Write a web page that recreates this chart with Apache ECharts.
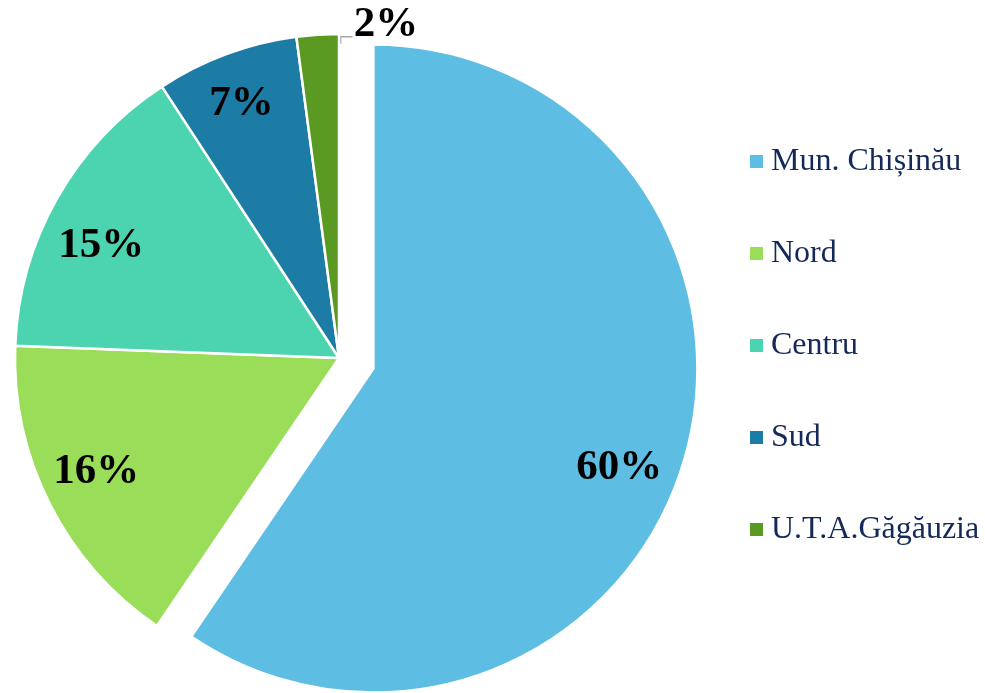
<!DOCTYPE html>
<html>
<head>
<meta charset="utf-8">
<script src="https://cdn.jsdelivr.net/npm/echarts@6/dist/echarts.min.js"></script>
<style>html,body{margin:0;padding:0;background:#fff;}#c{width:985px;height:693px;}</style>
</head>
<body>
<div id="c"></div>
<script>
const categories = ['Mun. Chișinău', 'Nord', 'Centru', 'Sud', 'U.T.A.Găgăuzia'];
const values = [59.5, 16.1, 15.2, 7.1, 2.1];
const colors = ['#5EBDE3', '#9ADD59', '#4CD4B0', '#1C7CA5', '#5A9A22'];
const labelTexts = ['60%', '16%', '15%', '7%', '2%'];
const labelNudges = [[-11, 20], [-3, -7], [-4, 20], [-4, -2], [0, 0]];

const chart = echarts.init(document.getElementById('c'));
const R = 324;
const center = [339, 358];
const offset = 36;

const mainData = categories.map((c, i) => ({
  name: c, value: values[i], selected: i === 0,
  itemStyle: { color: colors[i] }
}));
const labelData = categories.map((c, i) => ({
  name: c, value: values[i], selected: i === 0,
  label: i === 4 ? { position: 'outside' } : { position: 'inside' },
  labelLine: i === 4 ? { show: true, length: 4, length2: 10, lineStyle: { color: '#A6A6A6', width: 1.5 } } : { show: false }
}));

chart.setOption({
  animation: false,
  legend: {
    orient: 'vertical',
    left: 743,
    top: 140,
    itemWidth: 15,
    itemHeight: 15,
    itemGap: 59,
    icon: 'rect',
    data: categories,
    textStyle: { fontFamily: 'Liberation Serif', fontSize: 32, color: '#13295A', lineHeight: 33, padding: [0, 0, 0, 2] }
  },
  series: [
    {
      type: 'pie',
      name: 'main',
      center: center,
      radius: [0, R],
      startAngle: 90,
      clockwise: true,
      selectedMode: 'single',
      selectedOffset: offset,
      silent: true,
      itemStyle: { borderColor: '#ffffff', borderWidth: 2.5 },
      label: { show: false },
      labelLine: { show: false },
      emphasis: { disabled: true },
      data: mainData
    },
    {
      type: 'pie',
      name: 'labels',
      center: center,
      radius: [R * 0.64, R],
      startAngle: 90,
      clockwise: true,
      selectedMode: 'single',
      selectedOffset: offset,
      silent: true,
      itemStyle: { color: 'rgba(0,0,0,0)', borderWidth: 0 },
      emphasis: { disabled: true },
      label: {
        show: true,
        formatter: p => labelTexts[p.dataIndex],
        fontFamily: 'Liberation Serif',
        fontWeight: 'bold',
        fontSize: 43,
        color: '#000000'
      },
      labelLayout: function (params) {
        const i = params.dataIndex;
        if (i !== 4) {
          return { dx: labelNudges[i][0], dy: labelNudges[i][1] };
        }
        if (!params.labelLinePoints) return {};
        const p = params.labelLinePoints[0];
        const a = [p[0] + 23, p[1] + 9];
        const b = [p[0] + 23, p[1] + 2];
        const c = [p[0] + 35, p[1] + 2];
        return {
          x: c[0] + 1,
          y: c[1] - 12,
          align: 'left',
          verticalAlign: 'middle',
          labelLinePoints: [a, b, c]
        };
      },
      data: labelData
    }
  ]
});
</script>
</body>
</html>
